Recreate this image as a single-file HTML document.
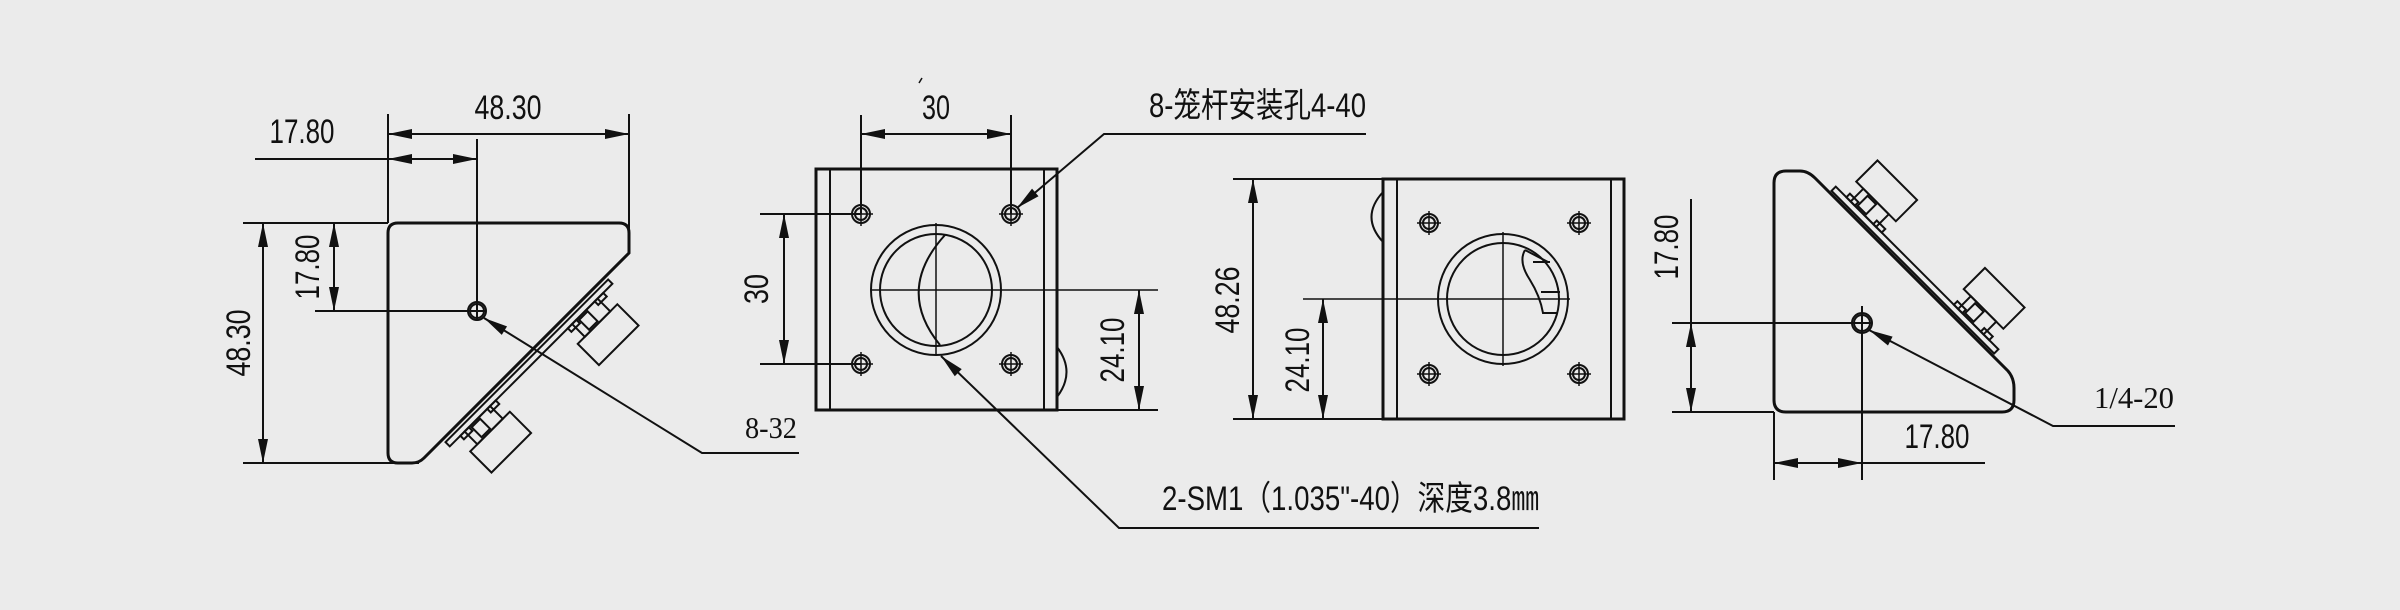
<!DOCTYPE html>
<html><head><meta charset="utf-8"><style>
html,body{margin:0;padding:0;background:#ebebeb;}
svg{display:block;}
text{font-family:"Liberation Sans","Noto Sans CJK SC",sans-serif;fill:#111;}
.s{font-family:"Liberation Serif","Noto Serif CJK SC",serif;}
</style></head><body>
<svg width="2400" height="610" viewBox="0 0 2400 610" xmlns="http://www.w3.org/2000/svg">
<defs>
<marker id="a" viewBox="-25 -6 26 12" refX="0" refY="0" markerWidth="26" markerHeight="12" markerUnits="userSpaceOnUse" orient="auto">
<path d="M0,0 L-24,-5 L-24,5 Z" fill="#111"/></marker>
<g id="knob" fill="none" stroke="#111" stroke-width="2">
<rect x="-24" y="6" width="12" height="5"/>
<rect x="14" y="6" width="12" height="5"/>
<rect x="-18" y="6" width="36" height="18"/>
<rect x="-10" y="8" width="12" height="14"/>
<rect x="-28" y="24" width="56" height="30"/>
</g>
<g id="plate" fill="none" stroke="#111" stroke-width="2">
<rect x="-115" y="0" width="230" height="6"/>
</g>
<g id="hole" fill="none" stroke="#111" stroke-width="2">
<circle r="9"/><circle r="6"/><path d="M-12,0H12M0,-12V12" stroke-width="1.5"/>
</g>
</defs>
<rect width="2400" height="610" fill="#ebebeb"/>
<g stroke="#111" stroke-width="2" fill="none">
<!-- VIEW 1 -->
<path d="M398,223 H619 Q629,223 629,233 V253 L424,458 Q419,463 412,463 H398 Q388,463 388,453 V233 Q388,223 398,223 Z" stroke-width="3"/>
<g transform="translate(524,358) rotate(-45) translate(0,4)"><use href="#plate"/><use href="#knob" transform="translate(76,0)"/><use href="#knob" transform="translate(-76,0)"/></g>
<circle cx="477" cy="311" r="9"/><circle cx="477" cy="311" r="7"/>
<path d="M388,114V223 M629,114V253 M477,139V320 M468,311H486"/>
<path d="M388,134H629 M255,159H477 M263,223V463 M334,223V311 M243,223H388 M243,463H419 M315,311H477"/>
<path d="M413,134L388,134" marker-end="url(#a)"/>
<path d="M604,134L629,134" marker-end="url(#a)"/>
<path d="M413,159L388,159" marker-end="url(#a)"/>
<path d="M452,159L477,159" marker-end="url(#a)"/>
<path d="M263,248L263,223" marker-end="url(#a)"/>
<path d="M263,438L263,463" marker-end="url(#a)"/>
<path d="M334,248L334,223" marker-end="url(#a)"/>
<path d="M334,286L334,311" marker-end="url(#a)"/>
<path d="M799,453H702L484,318" marker-end="url(#a)"/>
<!-- VIEW 2 -->
<rect x="816" y="169" width="241" height="241" stroke-width="3"/>
<path d="M830,169V410 M1044,169V410"/>
<path d="M1057,347 Q1076,372 1057,397"/>
<circle cx="936" cy="290" r="65"/><circle cx="936" cy="290" r="56"/>
<path d="M945,235 Q895,290 940,345"/>
<path d="M871,290H1158 M936,223V355" stroke-width="1.5"/>
<use href="#hole" x="861" y="214"/><use href="#hole" x="1011" y="214"/>
<use href="#hole" x="861" y="364"/><use href="#hole" x="1011" y="364"/>
<path d="M861,115V214 M1011,115V214 M861,134H1011"/>
<path d="M886,134L861,134" marker-end="url(#a)"/>
<path d="M986,134L1011,134" marker-end="url(#a)"/>
<path d="M760,214H861 M760,364H861 M784,214V364"/>
<path d="M784,239L784,214" marker-end="url(#a)"/>
<path d="M784,339L784,364" marker-end="url(#a)"/>
<path d="M1057,410H1158 M1139,290V410"/>
<path d="M1139,315L1139,290" marker-end="url(#a)"/>
<path d="M1139,385L1139,410" marker-end="url(#a)"/>
<path d="M1366,134H1104L1017,208" marker-end="url(#a)"/>
<path d="M1539,528H1119L941,356" marker-end="url(#a)"/>
<path d="M919,83l3,-5" stroke-width="1.5"/>
<!-- VIEW 3 -->
<rect x="1383" y="179" width="241" height="240" stroke-width="3"/>
<path d="M1397,179V419 M1611,179V419"/>
<path d="M1383,192 Q1360,217 1383,242"/>
<circle cx="1503" cy="299" r="65"/><circle cx="1503" cy="299" r="56"/>
<path d="M1525,250 Q1518,262 1530,280 Q1540,296 1543,313 L1558,313 M1525,250 L1548,262 M1533,262H1550 M1541,292H1560"/>
<path d="M1303,299H1570 M1503,232V366" stroke-width="1.5"/>
<use href="#hole" x="1429" y="223"/><use href="#hole" x="1579" y="223"/>
<use href="#hole" x="1429" y="374"/><use href="#hole" x="1579" y="374"/>
<path d="M1233,179H1383 M1233,419H1383 M1253,179V419 M1323,299V419"/>
<path d="M1253,204L1253,179" marker-end="url(#a)"/>
<path d="M1253,394L1253,419" marker-end="url(#a)"/>
<path d="M1323,324L1323,299" marker-end="url(#a)"/>
<path d="M1323,394L1323,419" marker-end="url(#a)"/>
<!-- VIEW 4 -->
<path d="M1786,171 H1800 Q1808,171 1815,178 L2008,371 Q2014,378 2014,388 V400 Q2014,412 2002,412 H1786 Q1774,412 1774,400 V183 Q1774,171 1786,171 Z" stroke-width="3"/>
<g transform="translate(1910,275) rotate(45) scale(1,-1) translate(0,4)"><use href="#plate"/><use href="#knob" transform="translate(-76,0)"/><use href="#knob" transform="translate(76,0)"/></g>
<circle cx="1862" cy="323" r="10"/><circle cx="1862" cy="323" r="8"/>
<path d="M1862,306V480 M1774,412V480 M1672,323H1872 M1672,412H1774 M1691,199V412 M1774,463H1985"/>
<path d="M1691,348L1691,323" marker-end="url(#a)"/>
<path d="M1691,387L1691,412" marker-end="url(#a)"/>
<path d="M1799,463L1774,463" marker-end="url(#a)"/>
<path d="M1837,463L1862,463" marker-end="url(#a)"/>
<path d="M2175,426H2053L1869,330" marker-end="url(#a)"/>
</g>
<g font-size="34">
<text x="508" y="119" text-anchor="middle" textLength="67" lengthAdjust="spacingAndGlyphs">48.30</text>
<text x="302" y="143" text-anchor="middle" textLength="65" lengthAdjust="spacingAndGlyphs">17.80</text>
<text transform="translate(250,343) rotate(-90)" text-anchor="middle" textLength="67" lengthAdjust="spacingAndGlyphs">48.30</text>
<text transform="translate(319,267) rotate(-90)" text-anchor="middle" textLength="65" lengthAdjust="spacingAndGlyphs">17.80</text>
<text class="s" x="771" y="438" text-anchor="middle" font-size="31" textLength="52" lengthAdjust="spacingAndGlyphs">8-32</text>
<text x="936" y="119" text-anchor="middle" textLength="28" lengthAdjust="spacingAndGlyphs">30</text>
<text transform="translate(768,289) rotate(-90)" text-anchor="middle" textLength="30" lengthAdjust="spacingAndGlyphs">30</text>
<text transform="translate(1124,350) rotate(-90)" text-anchor="middle" textLength="65" lengthAdjust="spacingAndGlyphs">24.10</text>
<text x="1149" y="117" textLength="217" lengthAdjust="spacingAndGlyphs">8-笼杆安装孔4-40</text>
<text x="1162" y="510" textLength="377" lengthAdjust="spacingAndGlyphs">2-SM1（1.035"-40）深度3.8㎜</text>
<text transform="translate(1239,300) rotate(-90)" text-anchor="middle" textLength="67" lengthAdjust="spacingAndGlyphs">48.26</text>
<text transform="translate(1309,360) rotate(-90)" text-anchor="middle" textLength="65" lengthAdjust="spacingAndGlyphs">24.10</text>
<text transform="translate(1678,247) rotate(-90)" text-anchor="middle" textLength="65" lengthAdjust="spacingAndGlyphs">17.80</text>
<text x="1937" y="448" text-anchor="middle" textLength="65" lengthAdjust="spacingAndGlyphs">17.80</text>
<text class="s" x="2134" y="408" text-anchor="middle" font-size="31" textLength="80" lengthAdjust="spacingAndGlyphs">1/4-20</text>
</g>
</svg>
</body></html>
